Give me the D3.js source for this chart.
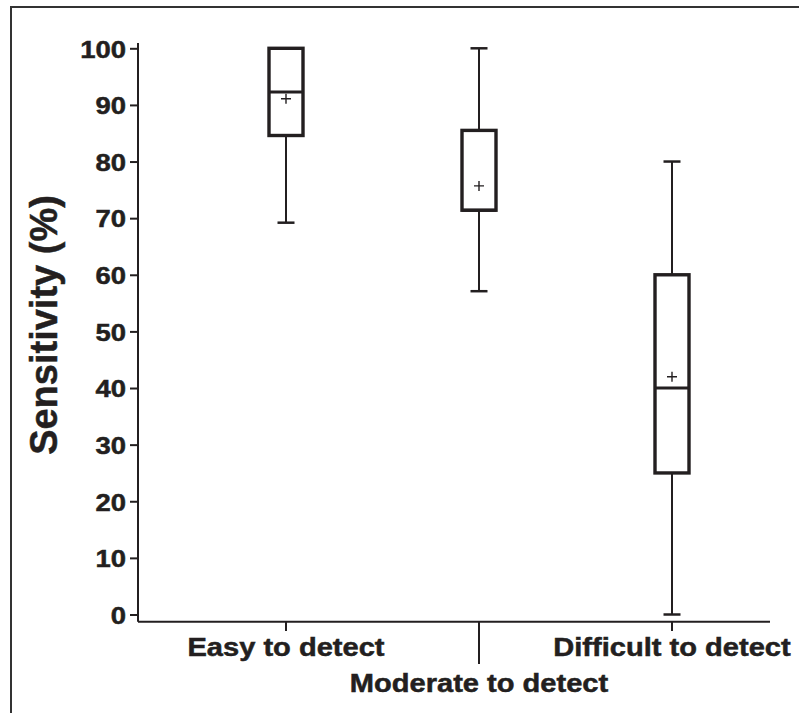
<!DOCTYPE html>
<html>
<head>
<meta charset="utf-8">
<script src="https://cdn.jsdelivr.net/npm/d3@7"></script>
<style>
	body { margin: 0; background: #fff; }
	text { font-family: "Liberation Sans", Arial, Helvetica, sans-serif; font-weight: bold; fill: #231f20; stroke: #231f20; stroke-width: 0.5px; }
</style>
</head>
<body>
<svg width="799" height="713"></svg>
<script>
// categories and box statistics (sensitivity %)
const categories = ["Easy to detect", "Moderate to detect", "Difficult to detect"]
const whiskerLow = [69.2, 57.1, 0]
const q1 = [84.6, 71.4, 25]
const median = [92.3, 71.4, 40]
const q3 = [100, 85.5, 60]
const whiskerHigh = [100, 100, 80]
const means = [91.1, 75.7, 42]
const yTicks = [0, 10, 20, 30, 40, 50, 60, 70, 80, 90, 100]

var svg = d3.select("svg")
var ink = "#231f20"
var stretch = 1.14

// widen labels a bit, the original type is set wide
function widen(sel, f) {
	sel.each(function () {
		var w = this.getComputedTextLength()
		d3.select(this).attr("textLength", w * f).attr("lengthAdjust", "spacingAndGlyphs")
	})
}

// frame around the figure
svg.append("rect")
	.attr("x", 11).attr("y", 7)
	.attr("width", 820).attr("height", 740)
	.attr("fill", "none").attr("stroke", "#333").attr("stroke-width", 2)

var y = d3.scaleLinear().domain([0, 100]).range([614.5, 48.3])
var x = d3.scalePoint().domain(categories).range([286, 672])

var axisX0 = 138, axisY0 = 621.7, axisX1 = 770

// y axis
var yAxis = svg.append("g")
	.attr("transform", "translate(" + axisX0 + ",0)")
	.call(d3.axisLeft(y).tickValues(yTicks).tickSize(8).tickPadding(4))
yAxis.select(".domain").remove()
yAxis.selectAll(".tick line").attr("stroke", ink).attr("stroke-width", 2)
yAxis.selectAll(".tick text")
	.attr("font-size", 24.5)
	.attr("fill", ink)
	.attr("dy", "0.36em")
	.call(widen, 1.12)
svg.append("line")
	.attr("x1", axisX0).attr("x2", axisX0)
	.attr("y1", 43).attr("y2", axisY0)
	.attr("stroke", ink).attr("stroke-width", 2)

// x axis
svg.append("line")
	.attr("x1", axisX0).attr("x2", axisX1)
	.attr("y1", axisY0).attr("y2", axisY0)
	.attr("stroke", ink).attr("stroke-width", 2)

svg.selectAll(".xtick")
	.data(categories)
	.enter()
	.append("line")
	.attr("class", "xtick")
	.attr("x1", d => x(d)).attr("x2", d => x(d))
	.attr("y1", axisY0)
	.attr("y2", (d, i) => i === 1 ? 664 : 631)
	.attr("stroke", ink).attr("stroke-width", 2)

svg.selectAll(".xlabel")
	.data(categories)
	.enter()
	.append("text")
	.attr("class", "xlabel")
	.attr("x", d => x(d))
	.attr("y", (d, i) => i === 1 ? 691.5 : 655.5)
	.attr("text-anchor", "middle")
	.attr("font-size", 25.5)
	.text(d => d)
	.call(widen, stretch)

// y title
svg.append("text")
	.attr("transform", "translate(57,325) rotate(-90)")
	.attr("text-anchor", "middle")
	.attr("font-size", 38)
	.text("Sensitivity (%)")

// boxes
var boxW = 34, capW = 17
var boxes = svg.append("g").attr("name", "boxes")
categories.forEach(function (c, i) {
	var cx = x(c)
	var g = boxes.append("g")
	// whiskers
	g.append("line")
		.attr("x1", cx).attr("x2", cx)
		.attr("y1", y(q3[i])).attr("y2", y(whiskerHigh[i]))
		.attr("stroke", ink).attr("stroke-width", 2)
	g.append("line")
		.attr("x1", cx).attr("x2", cx)
		.attr("y1", y(q1[i])).attr("y2", y(whiskerLow[i]))
		.attr("stroke", ink).attr("stroke-width", 2)
	;[whiskerHigh[i], whiskerLow[i]].forEach(function (v) {
		if (v === q3[i] || v === q1[i]) return
		g.append("line")
			.attr("x1", cx - capW / 2).attr("x2", cx + capW / 2)
			.attr("y1", y(v)).attr("y2", y(v))
			.attr("stroke", ink).attr("stroke-width", 2.5)
	})
	// box
	g.append("rect")
		.attr("x", cx - boxW / 2).attr("y", y(q3[i]))
		.attr("width", boxW).attr("height", y(q1[i]) - y(q3[i]))
		.attr("fill", "#fff").attr("stroke", ink).attr("stroke-width", 3.4)
	// median
	g.append("line")
		.attr("x1", cx - boxW / 2).attr("x2", cx + boxW / 2)
		.attr("y1", y(median[i])).attr("y2", y(median[i]))
		.attr("stroke", ink).attr("stroke-width", 3)
	// mean
	var my = y(means[i])
	g.append("path")
		.attr("d", "M" + (cx - 5) + "," + my + "H" + (cx + 5) + "M" + cx + "," + (my - 5) + "V" + (my + 5))
		.attr("stroke", ink).attr("stroke-width", 1.4)
})
</script>
</body>
</html>
